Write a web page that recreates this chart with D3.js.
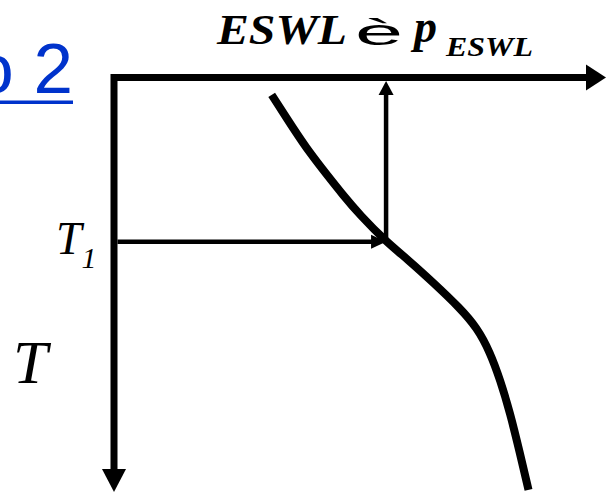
<!DOCTYPE html>
<html>
<head>
<meta charset="utf-8">
<script src="https://cdn.jsdelivr.net/npm/d3@7"></script>
<style>
  html, body { margin: 0; padding: 0; background: #fff; overflow: hidden; }
  svg { display: block; }
</style>
</head>
<body>
<script>
// SVG size
const w = 606;
const h = 492;

// Curve: pressure p (x) against temperature T (y, downward)
const curveP = [32.05, 36.4, 39.8, 43.3, 46.5, 50.0, 55.3, 59.8, 65.0, 70.3, 73.8, 76.4, 78.5, 80.5, 82.5, 84.25];
const curveT = [4.2, 12.2, 18.2, 23.5, 28.3, 33.2, 39.6, 44.0, 49.6, 55.6, 60.4, 66.2, 73.0, 80.9, 90.6, 99.5];

// Reading at T1
const t1 = 39.6;
const p1 = 55.3;

// Axis extents
const pDomain = [0, 100];
const tDomain = [0, 100];

const data = curveP.map((p, i) => ({ p: p, T: curveT[i] }));

// Scales
const xScale = d3.scaleLinear().domain(pDomain).range([114, 606]);
const yScale = d3.scaleLinear().domain(tDomain).range([77.5, 492]);

const svg = d3.select("body")
    .append("svg")
    .attr("width", w)
    .attr("height", h);

// Draw an arrow: shaft plus filled head
function arrow(x1, y1, x2, y2, width, headLen, headHalf) {
    const dx = x2 - x1, dy = y2 - y1;
    const len = Math.sqrt(dx * dx + dy * dy);
    const ux = dx / len, uy = dy / len;
    const bx = x2 - ux * headLen, by = y2 - uy * headLen;
    svg.append("line")
        .attr("x1", x1).attr("y1", y1)
        .attr("x2", bx + ux * 1).attr("y2", by + uy * 1)
        .attr("stroke", "#000")
        .attr("stroke-width", width);
    svg.append("path")
        .attr("d", `M${x2},${y2} L${bx - uy * headHalf},${by + ux * headHalf} L${bx + uy * headHalf},${by - ux * headHalf} Z`)
        .attr("fill", "#000");
}

// Axes (top: p, left: T downward)
const x0 = xScale(pDomain[0]);
const y0 = yScale(tDomain[0]);
const xEnd = xScale(pDomain[1]);
const yEnd = yScale(tDomain[1]);

svg.append("path")
    .attr("d", `M${xEnd - 19},${y0} H${x0} V${yEnd - 22}`)
    .attr("fill", "none")
    .attr("stroke", "#000")
    .attr("stroke-width", 7)
    .attr("stroke-linejoin", "miter");

svg.append("path")
    .attr("d", `M${xEnd},${y0} L${xEnd - 20},${y0 - 13} L${xEnd - 20},${y0 + 13} Z`)
    .attr("fill", "#000");

svg.append("path")
    .attr("d", `M${x0},${yEnd} L${x0 - 12},${yEnd - 23} L${x0 + 12},${yEnd - 23} Z`)
    .attr("fill", "#000");

// Curve
const line = d3.line()
    .x(d => xScale(d.p))
    .y(d => yScale(d.T))
    .curve(d3.curveBasis);

svg.append("path")
    .datum(data)
    .attr("d", line)
    .attr("fill", "none")
    .attr("stroke", "#000")
    .attr("stroke-width", 8);

// Reading arrows: T1 -> curve -> p axis
arrow(x0 + 3.5, yScale(t1), xScale(p1), yScale(t1), 4.5, 15, 7);
arrow(xScale(p1), yScale(t1), xScale(p1), y0 + 3.5, 4.5, 14, 7.5);

// Title
svg.append("text")
    .attr("x", 217)
    .attr("y", 44)
    .attr("font-family", "Liberation Serif, Times New Roman, serif")
    .attr("font-weight", "bold")
    .attr("font-style", "italic")
    .attr("font-size", 42)
    .attr("textLength", 130)
    .attr("lengthAdjust", "spacingAndGlyphs")
    .text("ESWL");

svg.append("text")
    .attr("x", 355)
    .attr("y", 45)
    .attr("font-family", "Liberation Sans, Arial, sans-serif")
    .attr("font-size", 37)
    .attr("textLength", 48)
    .attr("lengthAdjust", "spacingAndGlyphs")
    .text("è");

svg.append("text")
    .attr("x", 414)
    .attr("y", 42)
    .attr("font-family", "Liberation Serif, Times New Roman, serif")
    .attr("font-weight", "bold")
    .attr("font-style", "italic")
    .attr("font-size", 46)
    .text("p");

svg.append("text")
    .attr("x", 446)
    .attr("y", 56)
    .attr("font-family", "Liberation Serif, Times New Roman, serif")
    .attr("font-weight", "bold")
    .attr("font-style", "italic")
    .attr("font-size", 28)
    .attr("textLength", 87)
    .attr("lengthAdjust", "spacingAndGlyphs")
    .text("ESWL");

// T1 label
const t1Label = svg.append("text")
    .attr("x", 56)
    .attr("y", 254)
    .attr("font-family", "Liberation Serif, Times New Roman, serif")
    .attr("font-style", "italic")
    .attr("font-size", 46);
t1Label.append("tspan").text("T");
t1Label.append("tspan")
    .attr("font-size", 30)
    .attr("dy", 14)
    .text("1");

// T axis label
svg.append("text")
    .attr("x", 13)
    .attr("y", 383)
    .attr("font-family", "Liberation Serif, Times New Roman, serif")
    .attr("font-style", "italic")
    .attr("font-size", 62)
    .text("T");

// Cut-off link text
svg.append("text")
    .attr("x", 73)
    .attr("y", 93)
    .attr("text-anchor", "end")
    .attr("font-family", "Liberation Sans, Arial, sans-serif")
    .attr("font-size", 71)
    .attr("fill", "#0033cc")
    .text("Ejemplo 2");

svg.append("rect")
    .attr("x", 0)
    .attr("y", 100.5)
    .attr("width", 73)
    .attr("height", 3.5)
    .attr("fill", "#0033cc");
</script>
</body>
</html>
